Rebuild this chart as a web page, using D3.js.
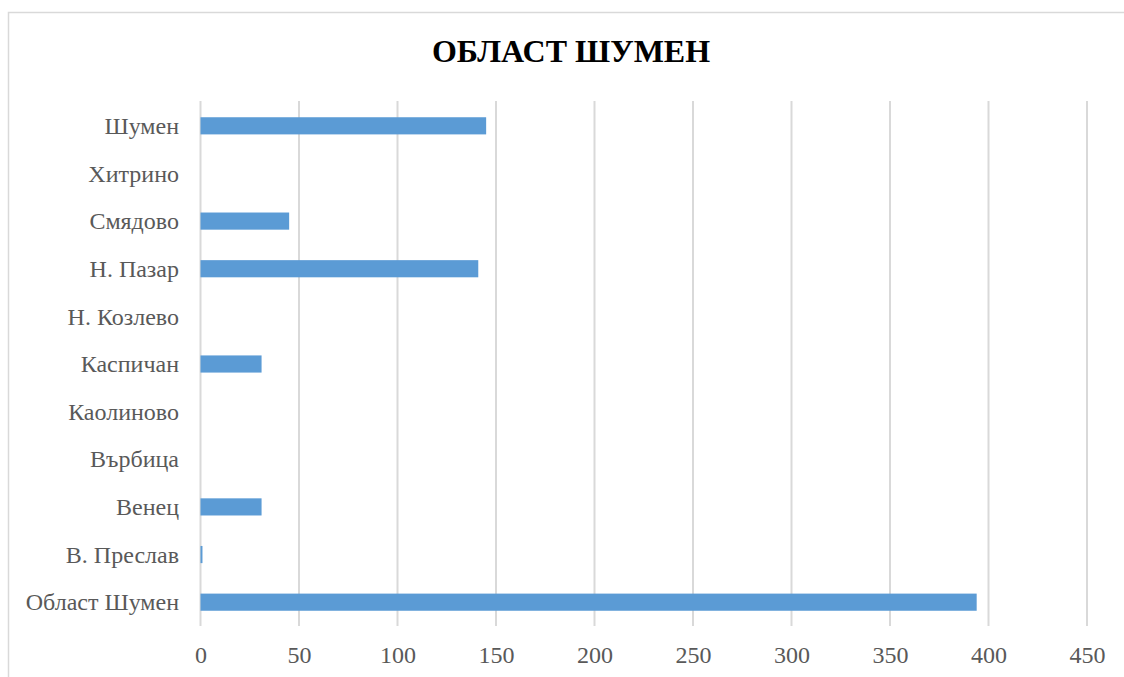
<!DOCTYPE html>
<html>
<head>
<meta charset="utf-8">
<script src="https://cdn.jsdelivr.net/npm/d3@7"></script>
<style>
  html, body { margin: 0; padding: 0; background: #fff; }
  svg { display: block; }
</style>
</head>
<body>
<svg id="chart" width="1124" height="677"></svg>
<script>
const title = "ОБЛАСТ ШУМЕН";
const categories = ["Шумен", "Хитрино", "Смядово", "Н. Пазар", "Н. Козлево", "Каспичан", "Каолиново", "Върбица", "Венец", "В. Преслав", "Област Шумен"];
const values = [145, 0, 45, 141, 0, 31, 0, 0, 31, 1, 394];
const tickValues = [0, 50, 100, 150, 200, 250, 300, 350, 400, 450];

const svg = d3.select("#chart");
const W = 1124, H = 677;
const font = "'Liberation Serif', 'Times New Roman', serif";

// chart border
svg.append("rect")
  .attr("x", 8.5).attr("y", 12.5)
  .attr("width", W + 20).attr("height", H + 20)
  .attr("fill", "#fff").attr("stroke", "#d9d9d9").attr("stroke-width", 1.5);

const plot = { left: 200.5, right: 1087, top: 102, bottom: 626 };

const x = d3.scaleLinear().domain([0, 450]).range([plot.left, plot.right]);
const y = d3.scaleBand().domain(categories).range([plot.top, plot.bottom]).paddingInner(0.64).paddingOuter(0.32);

// gridlines
svg.append("g")
  .selectAll("line")
  .data(tickValues)
  .join("line")
  .attr("x1", d => x(d)).attr("x2", d => x(d))
  .attr("y1", plot.top - 1).attr("y2", plot.bottom)
  .attr("stroke", "#d9d9d9").attr("stroke-width", 2);

// bars
svg.append("g")
  .selectAll("rect")
  .data(categories.map((c, i) => ({ c, v: values[i] })))
  .join("rect")
  .attr("x", x(0))
  .attr("y", d => y(d.c))
  .attr("width", d => Math.max(0, x(d.v) - x(0)))
  .attr("height", y.bandwidth())
  .attr("fill", "#5b9bd5");

// x axis labels
const xAxis = d3.axisBottom(x).tickValues(tickValues).tickSize(0).tickPadding(0);
const gx = svg.append("g").attr("transform", `translate(0, ${plot.bottom})`).call(xAxis);
gx.select(".domain").remove();
gx.selectAll("text")
  .attr("dy", null).attr("y", 37)
  .attr("font-family", font).attr("font-size", 24).attr("fill", "#595959");

// y axis labels
const yAxis = d3.axisLeft(y).tickSize(0).tickPadding(0);
const gy = svg.append("g").attr("transform", `translate(179, 0)`).call(yAxis);
gy.select(".domain").remove();
gy.selectAll("text")
  .attr("x", 0).attr("dy", "0.34em")
  .attr("font-family", font).attr("font-size", 24).attr("fill", "#595959");

// title
svg.append("text")
  .attr("x", 571).attr("y", 62)
  .attr("text-anchor", "middle")
  .attr("font-family", font).attr("font-weight", "bold").attr("font-size", 32)
  .attr("fill", "#000")
  .text(title);
</script>
</body>
</html>
